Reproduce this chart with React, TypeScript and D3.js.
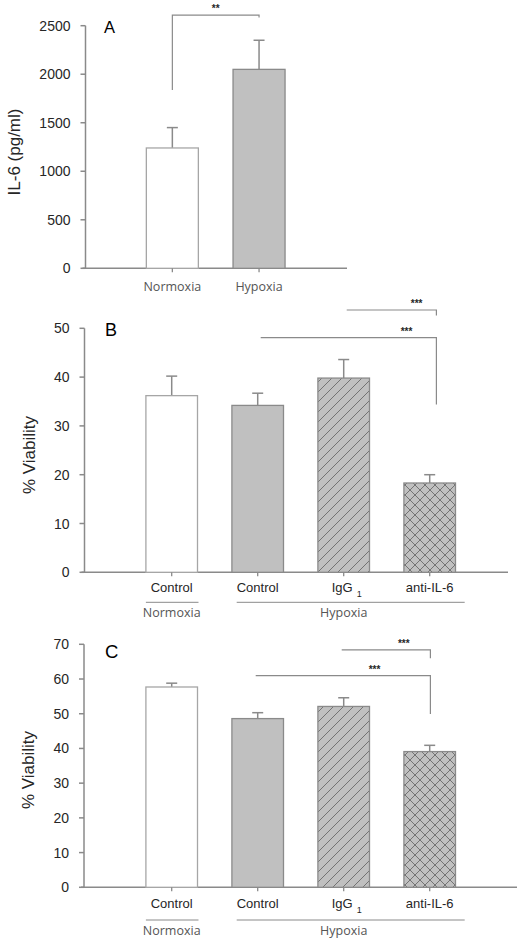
import React from "react";
import * as d3 from "d3";

// ---------- DATA ----------
const panelACategories = ["Normoxia", "Hypoxia"];
const panelAValues = [1240, 2050];
const panelAErrors = [210, 300];
const panelATicks = [0, 500, 1000, 1500, 2000, 2500];

const viabilityCategories = ["Control", "Control", "IgG", "anti-IL-6"];
const viabilitySubscripts = ["", "", "1", ""];
const viabilityGroups = ["Normoxia", "Hypoxia"];

const panelBValues = [36.2, 34.2, 39.8, 18.3];
const panelBErrors = [4.0, 2.5, 3.8, 1.7];
const panelBTicks = [0, 10, 20, 30, 40, 50];

const panelCValues = [57.7, 48.6, 52.1, 39.1];
const panelCErrors = [1.1, 1.7, 2.5, 1.8];
const panelCTicks = [0, 10, 20, 30, 40, 50, 60, 70];

// significance brackets: [fromIndex, toIndex, barValue, legEndValue(right), label]
const panelABrackets = [{ from: 0, to: 1, y: 2610, leftLeg: 1838, rightLeg: 2585, label: "**", at: 0.5 }];
const panelBBrackets = [
  { from: 2, to: 3, y: 53.75, leftLeg: 53.75, rightLeg: 52.6, label: "***", at: 0.78 },
  { from: 1, to: 3, y: 48.1, leftLeg: 48.1, rightLeg: 34.4, label: "***", at: 0.83 },
];
const panelCBrackets = [
  { from: 2, to: 3, y: 68.4, leftLeg: 68.4, rightLeg: 66.0, label: "***", at: 0.7 },
  { from: 1, to: 3, y: 61.0, leftLeg: 61.0, rightLeg: 49.9, label: "***", at: 0.68 },
];

// ---------- STYLE ----------
const AXIS = "#8a8a8a";
const TEXT = "#262626";
const GROUPTEXT = "#555555";
const ARIAL = "'Liberation Sans', Arial, sans-serif";
const OPEN = "'Open Sans', 'Noto Sans', sans-serif";

type Bracket = { from: number; to: number; y: number; leftLeg: number; rightLeg: number; label: string; at: number };

function fillFor(i: number, twoBars: boolean) {
  if (i === 0) return { fill: "#ffffff", stroke: "#a6a6a6" };
  if (twoBars) return { fill: "#c0c0c0", stroke: "#8a8a8a" };
  if (i === 1) return { fill: "#c0c0c0", stroke: "#8a8a8a" };
  if (i === 2) return { fill: "url(#hatch)", stroke: "#8a8a8a" };
  return { fill: "url(#cross)", stroke: "#8a8a8a" };
}

function Panel(props: {
  letter: string;
  letterSize: number;
  letterPos: [number, number];
  yTitle: string;
  yTitlePos: [number, number];
  axisX: number;
  axisY0: number;
  axisY1: number;
  axisXEnd: number;
  bandRange: [number, number];
  yDomain: [number, number];
  ticks: number[];
  values: number[];
  errors: number[];
  categories: string[];
  subscripts?: string[];
  brackets: Bracket[];
  bracketDx: [number, number];
  catLabelDy: number;
  groupLineDy?: number;
  groupLabelDy?: number;
  twoBars?: boolean;
}) {
  const p = props;
  const keys = p.categories.map((c, i) => `${i}`);
  const x = d3.scaleBand<string>().domain(keys).range(p.bandRange).paddingInner(0.4).paddingOuter(0.2);
  const y = d3.scaleLinear().domain(p.yDomain).range([p.axisY0, p.axisY1]);
  const bw = x.bandwidth();
  const cx = (i: number) => (x(`${i}`) as number) + bw / 2;
  const capW = 11;

  return (
    <g>
      {/* y axis */}
      <line x1={p.axisX} x2={p.axisX} y1={y(p.yDomain[0])} y2={y(p.yDomain[1])} stroke={AXIS} strokeWidth={1.5} />
      {p.ticks.map((t) => (
        <g key={t}>
          <line x1={p.axisX - 5} x2={p.axisX} y1={y(t)} y2={y(t)} stroke={AXIS} strokeWidth={1.5} />
          <text x={p.axisX - 15} y={y(t) + 5} textAnchor="end" fontFamily={ARIAL} fontSize={14} fill={TEXT}>
            {t}
          </text>
        </g>
      ))}
      {/* x axis */}
      <line x1={p.axisX - 3} x2={p.axisXEnd} y1={p.axisY0} y2={p.axisY0} stroke={AXIS} strokeWidth={1.5} />
      {/* bars */}
      {p.values.map((v, i) => {
        const f = fillFor(i, !!p.twoBars);
        return (
          <g key={i}>
            <line x1={cx(i)} x2={cx(i)} y1={y(v)} y2={y(v + p.errors[i])} stroke={AXIS} strokeWidth={1.5} />
            <line x1={cx(i) - capW / 2} x2={cx(i) + capW / 2} y1={y(v + p.errors[i])} y2={y(v + p.errors[i])} stroke={AXIS} strokeWidth={1.5} />
            <rect x={x(`${i}`)} y={y(v)} width={bw} height={p.axisY0 - y(v)} fill={f.fill} stroke={f.stroke} strokeWidth={1.3} />
            <line x1={cx(i)} x2={cx(i)} y1={p.axisY0} y2={p.axisY0 + 4} stroke={AXIS} strokeWidth={1.3} />
          </g>
        );
      })}
      {/* category labels */}
      {p.categories.map((c, i) =>
        p.twoBars ? (
          <text key={i} x={cx(i)} y={p.axisY0 + p.catLabelDy} textAnchor="middle" fontFamily={OPEN} fontSize={12.5} fill={GROUPTEXT}>
            {c}
          </text>
        ) : (
          <text key={i} x={cx(i) + (p.subscripts && p.subscripts[i] ? 3 : 0)} y={p.axisY0 + p.catLabelDy} textAnchor="middle" fontFamily={ARIAL} fontSize={13} fill={TEXT}>
            {c}
            {p.subscripts && p.subscripts[i] ? (
              <tspan dx={4} dy={5} fontSize={9}>
                {p.subscripts[i]}
              </tspan>
            ) : null}
          </text>
        )
      )}
      {/* group lines */}
      {!p.twoBars && p.groupLineDy !== undefined && (
        <g>
          <line x1={x("0") as number} x2={(x("0") as number) + bw + 1} y1={p.axisY0 + p.groupLineDy} y2={p.axisY0 + p.groupLineDy} stroke={AXIS} strokeWidth={1} />
          <line x1={cx(1) - 21} x2={cx(3) + 35} y1={p.axisY0 + p.groupLineDy} y2={p.axisY0 + p.groupLineDy} stroke={AXIS} strokeWidth={1} />
          <text x={cx(0)} y={p.axisY0 + (p.groupLabelDy as number)} textAnchor="middle" fontFamily={OPEN} fontSize={12.5} fill={GROUPTEXT}>
            {viabilityGroups[0]}
          </text>
          <text x={cx(2)} y={p.axisY0 + (p.groupLabelDy as number)} textAnchor="middle" fontFamily={OPEN} fontSize={12.5} fill={GROUPTEXT}>
            {viabilityGroups[1]}
          </text>
        </g>
      )}
      {/* brackets */}
      {p.brackets.map((b, k) => {
        const x1 = cx(b.from) + p.bracketDx[0];
        const x2 = cx(b.to) + p.bracketDx[1];
        const yy = y(b.y);
        const lx = x1 + (x2 - x1) * b.at;
        return (
          <g key={k}>
            <path d={`M${x1},${y(b.leftLeg)}V${yy}H${x2}V${y(b.rightLeg)}`} fill="none" stroke={AXIS} strokeWidth={1.2} />
            <text x={lx} y={yy - 3} textAnchor="middle" fontFamily={ARIAL} fontSize={10} fontWeight="bold" fill={TEXT}>
              {b.label}
            </text>
          </g>
        );
      })}
      {/* panel letter */}
      <text x={p.letterPos[0]} y={p.letterPos[1]} fontFamily={ARIAL} fontSize={p.letterSize} fill="#000">
        {p.letter}
      </text>
      {/* y title */}
      <text transform={`translate(${p.yTitlePos[0]},${p.yTitlePos[1]}) rotate(-90)`} textAnchor="middle" fontFamily={ARIAL} fontSize={17} fill={TEXT}>
        {p.yTitle}
      </text>
    </g>
  );
}

export default function App() {
  return (
    <svg width={524} height={944} style={{ position: "absolute", left: 0, top: 0, background: "#fff" }}>
      <defs>
        <pattern id="hatch" patternUnits="userSpaceOnUse" width={10} height={10}>
          <rect width={10} height={10} fill="#c0c0c0" />
          <path d="M0,10 L10,0 M-2,2 L2,-2 M8,12 L12,8" stroke="#6a6a6a" strokeWidth={0.9} />
        </pattern>
        <pattern id="cross" patternUnits="userSpaceOnUse" width={10} height={10}>
          <rect width={10} height={10} fill="#c0c0c0" />
          <path d="M0,10 L10,0 M-2,2 L2,-2 M8,12 L12,8 M0,0 L10,10 M-2,8 L2,12 M8,-2 L12,2" stroke="#6a6a6a" strokeWidth={0.9} />
        </pattern>
      </defs>
      <Panel
        letter="A"
        letterSize={16.5}
        letterPos={[104, 33.3]}
        yTitle="IL-6 (pg/ml)"
        yTitlePos={[19.5, 152]}
        axisX={85.5}
        axisY0={268.3}
        axisY1={25.7}
        axisXEnd={347}
        bandRange={[129, 302.4]}
        yDomain={[0, 2500]}
        ticks={panelATicks}
        values={panelAValues}
        errors={panelAErrors}
        categories={panelACategories}
        brackets={panelABrackets}
        bracketDx={[0, 0]}
        catLabelDy={22.4}
        twoBars
      />
      <Panel
        letter="B"
        letterSize={18}
        letterPos={[105, 336]}
        yTitle="% Viability"
        yTitlePos={[34.5, 455]}
        axisX={84.5}
        axisY0={572.3}
        axisY1={328.3}
        axisXEnd={508}
        bandRange={[128.7, 472.7]}
        yDomain={[0, 50]}
        ticks={panelBTicks}
        values={panelBValues}
        errors={panelBErrors}
        categories={viabilityCategories}
        subscripts={viabilitySubscripts}
        brackets={panelBBrackets}
        bracketDx={[3, 6.7]}
        catLabelDy={19.4}
        groupLineDy={30}
        groupLabelDy={45}
      />
      <Panel
        letter="C"
        letterSize={18.5}
        letterPos={[105, 657.5]}
        yTitle="% Viability"
        yTitlePos={[34, 770]}
        axisX={84}
        axisY0={887.3}
        axisY1={644.3}
        axisXEnd={517}
        bandRange={[128.7, 472.7]}
        yDomain={[0, 70]}
        ticks={panelCTicks}
        values={panelCValues}
        errors={panelCErrors}
        categories={viabilityCategories}
        subscripts={viabilitySubscripts}
        brackets={panelCBrackets}
        bracketDx={[-2, 0.7]}
        catLabelDy={21}
        groupLineDy={32.7}
        groupLabelDy={47.7}
      />
    </svg>
  );
}
